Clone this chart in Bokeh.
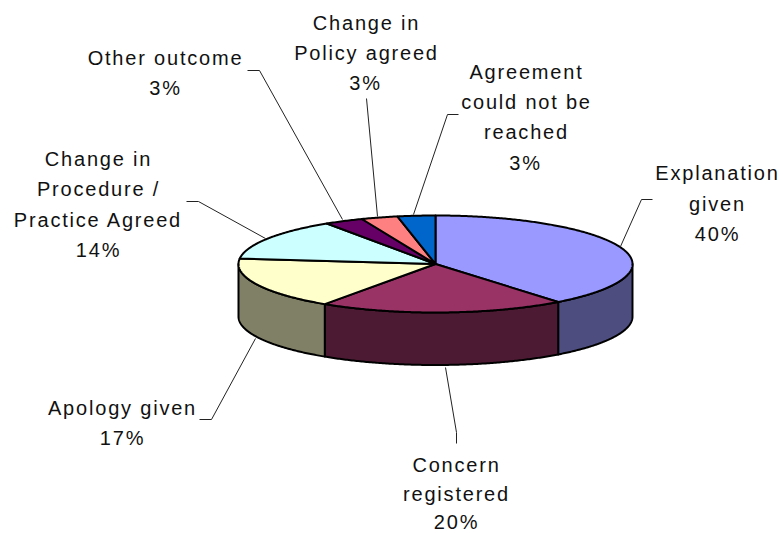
import numpy as np
from bokeh.plotting import figure
from bokeh.models import Range1d, InlineStyleSheet
from bokeh.core.properties import value
from bokeh.embed import file_html
from bokeh.resources import INLINE

# data
categories = ["Explanation given", "Concern registered", "Apology given",
              "Change in Procedure / Practice Agreed", "Other outcome",
              "Change in Policy agreed", "Agreement could not be reached"]
shares = [39.3, 20.2, 17.3, 13.9, 3.2, 3.0, 3.1]
top_colors = ["#9999FF", "#993366", "#FFFFCC", "#CCFFFF", "#660066", "#FF8080", "#0066CC"]
side_colors = ["#4D4D80", "#4D1A33", "#808066", "#668080", "#330033", "#804040", "#003366"]

# label lines: (text, centre x, baseline y) in page pixels
label_lines = [
    ("Explanation", 717, 180), ("given", 717, 211), ("40%", 717, 241),
    ("Concern", 456, 472), ("registered", 456, 501), ("20%", 456, 529),
    ("Apology given", 122, 415), ("17%", 122, 445),
    ("Change in", 98, 166), ("Procedure /", 98, 196), ("Practice Agreed", 98, 227), ("14%", 98, 257),
    ("Other outcome", 165, 65), ("3%", 165, 95),
    ("Change in", 366, 30), ("Policy agreed", 366, 60), ("3%", 365, 90),
    ("Agreement", 526, 79), ("could not be", 526, 109), ("reached", 526, 139), ("3%", 525, 170),
]
leaders_x = [[652, 641, 620], [456, 456, 445], [199, 211, 255], [186, 198, 265],
             [247, 259, 342], [366, 377], [458, 447, 413]]
leaders_y = [[199, 199, 246], [443, 432, 367], [419, 419, 338], [201, 201, 238],
             [70, 70, 219], [98, 216], [114, 114, 214]]

CX, CY, RX, RY, DEPTH = 435, 263.5, 197, 48.5, 52.5
SPACING = 1.8
BASELINE_SHIFT = -8

p = figure(width=783, height=533, x_range=Range1d(0, 783), y_range=Range1d(533, 0),
           output_backend="svg", toolbar_location=None, min_border=0)
p.axis.visible = False
p.grid.visible = False
p.outline_line_color = None
p.stylesheets = [InlineStyleSheet(css=f":host {{ letter-spacing: {SPACING}px; }}")]


def rim(a0, a1):
    t = np.radians(np.linspace(a0, a1, max(3, int(abs(a1 - a0) * 2))))
    return CX + RX * np.sin(t), CY - RY * np.cos(t)


edges = np.concatenate([[0], np.cumsum(shares) / sum(shares) * 360])

# sides: only the part of the rim that faces the viewer
for a0, a1, c in zip(edges[:-1], edges[1:], side_colors):
    lo, hi = max(a0, 90), min(a1, 270)
    if hi <= lo:
        continue
    x, y = rim(lo, hi)
    p.patch(np.r_[x, x[::-1]], np.r_[y, y[::-1] + DEPTH], fill_color=c,
            line_color="black", line_width=2, line_join="round")

# top surface
for a0, a1, c in zip(edges[:-1], edges[1:], top_colors):
    x, y = rim(a0, a1)
    p.patch(np.r_[CX, x], np.r_[CY, y], fill_color=c,
            line_color="black", line_width=2, line_join="round")

# leaders
p.multi_line(leaders_x, leaders_y, line_color="#222222", line_width=1)

# labels (Bokeh places text from its unspaced width, so compensate for the tracking)
p.text([l[1] - len(l[0]) * SPACING / 2 for l in label_lines],
       [l[2] + BASELINE_SHIFT for l in label_lines], text=[l[0] for l in label_lines],
       text_font=value("Liberation Sans"), text_font_size="20px", text_color="#111111",
       text_align="center", text_baseline="alphabetic")

open("out.html", "w").write(file_html(p, INLINE))
